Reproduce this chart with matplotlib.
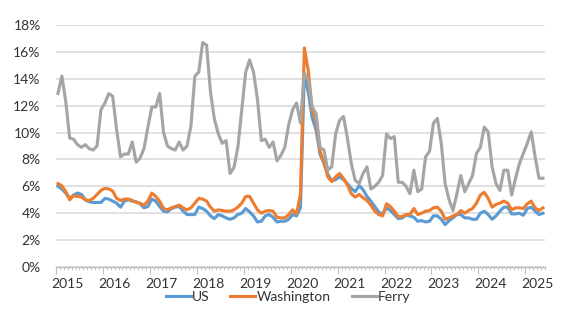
import matplotlib
matplotlib.use('Agg')
import matplotlib.pyplot as plt
import numpy as np
from matplotlib.ticker import MultipleLocator, FixedLocator, PercentFormatter

plt.rcParams['font.family'] = ['Lato', 'DejaVu Sans']

# monthly unemployment rate, Jan 2015 - May 2025 (%)
years = list(range(2015, 2026))

us = [6.0, 5.8, 5.5, 5.1, 5.35, 5.5, 5.4, 5.0, 4.85, 4.8, 4.8, 4.8,
      5.1, 5.05, 4.9, 4.75, 4.45, 4.9, 5.0, 4.9, 4.85, 4.7, 4.4, 4.5,
      5.05, 4.9, 4.5, 4.15, 4.1, 4.35, 4.45, 4.5, 4.15, 3.9, 3.9, 3.9,
      4.45, 4.35, 4.15, 3.8, 3.6, 3.9, 3.8, 3.65, 3.55, 3.65, 3.9, 4.0,
      4.35, 4.1, 3.8, 3.35, 3.4, 3.8, 3.9, 3.7, 3.35, 3.4, 3.4, 3.55,
      3.9, 3.8, 4.4, 14.4, 13.0, 11.1, 10.2, 8.4, 7.7, 6.9, 6.4, 6.5,
      6.7, 6.5, 6.2, 5.85, 5.6, 6.05, 5.75, 5.25, 4.9, 4.5, 4.1, 3.9,
      4.4, 4.2, 3.9, 3.6, 3.65, 3.85, 3.8, 3.7, 3.4, 3.45, 3.35, 3.4,
      3.8, 3.8, 3.55, 3.15, 3.45, 3.65, 3.9, 3.9, 3.65, 3.65, 3.55, 3.55,
      4.0, 4.15, 3.9, 3.55, 3.8, 4.15, 4.45, 4.45, 3.95, 3.95, 4.0, 3.85,
      4.35, 4.45, 4.15, 3.9, 4.0]

washington = [6.2, 6.05, 5.6, 5.0, 5.3, 5.25, 5.2, 5.0, 4.95, 5.1, 5.4, 5.7,
              5.85, 5.8, 5.65, 5.1, 4.95, 5.05, 5.05, 4.95, 4.8, 4.75, 4.6, 4.9,
              5.5, 5.25, 4.9, 4.35, 4.25, 4.4, 4.5, 4.6, 4.4, 4.25, 4.4, 4.75,
              5.1, 5.05, 4.9, 4.45, 4.15, 4.25, 4.2, 4.15, 4.15, 4.25, 4.45, 4.75,
              5.25, 5.25, 4.75, 4.25, 4.0, 4.15, 4.2, 4.15, 3.7, 3.65, 3.65, 3.9,
              4.25, 3.95, 5.4, 16.3, 14.6, 11.7, 10.9, 8.6, 7.8, 6.7, 6.35, 6.7,
              6.95, 6.6, 6.1, 5.45, 5.2, 5.4, 5.15, 4.95, 4.6, 4.15, 3.9, 3.8,
              4.7, 4.5, 4.15, 3.75, 3.75, 3.9, 3.9, 4.35, 3.9, 4.0, 4.15, 4.2,
              4.4, 4.45, 4.15, 3.55, 3.65, 3.8, 3.9, 4.2, 4.0, 4.2, 4.35, 4.75,
              5.35, 5.55, 5.1, 4.45, 4.65, 4.75, 4.9, 4.75, 4.25, 4.4, 4.4, 4.35,
              4.7, 4.9, 4.4, 4.2, 4.4]

ferry = [12.9, 14.2, 12.3, 9.6, 9.5, 9.1, 8.9, 9.1, 8.8, 8.7, 9.0, 11.7,
         12.2, 12.9, 12.7, 10.2, 8.2, 8.4, 8.4, 9.3, 7.8, 8.1, 8.8, 10.4,
         11.9, 11.9, 12.9, 10.0, 9.0, 8.8, 8.7, 9.3, 8.7, 9.0, 10.5, 14.2,
         14.5, 16.7, 16.5, 13.0, 11.0, 9.9, 9.2, 9.4, 6.95, 7.4, 8.9, 11.7,
         14.5, 15.4, 14.5, 12.5, 9.4, 9.5, 8.9, 9.3, 7.9, 8.3, 8.9, 10.6,
         11.7, 12.2, 10.7, 14.4, 13.9, 11.9, 11.4, 8.9, 8.7, 7.2, 7.45, 9.9,
         10.9, 11.2, 9.6, 7.7, 6.45, 6.2, 6.95, 7.45, 5.8, 6.0, 6.3, 6.8,
         9.9, 9.55, 9.7, 6.3, 6.3, 6.0, 5.45, 7.2, 5.6, 5.8, 8.2, 8.6,
         10.7, 11.05, 9.2, 6.2, 5.0, 4.2, 5.45, 6.8, 5.6, 6.2, 6.8, 8.45,
         8.9, 10.4, 10.05, 7.45, 6.2, 5.7, 7.2, 7.2, 5.35, 6.6, 7.7, 8.45,
         9.2, 10.05, 8.2, 6.6, 6.6]

m = np.arange(len(ferry))

fig = plt.figure(figsize=(5.76, 3.36), dpi=100)
ax = fig.add_axes([0.0972, 0.2054, 0.8488, 0.7202])

ax.plot(m, us, color='#5B9BD5', lw=2.25, label='US', solid_joinstyle='round')
ax.plot(m, washington, color='#ED7D31', lw=2.25, label='Washington', solid_joinstyle='round')
ax.plot(m, ferry, color='#A5A5A5', lw=2.25, label='Ferry', solid_joinstyle='round')

ax.set_ylim(0, 18)
ax.set_xlim(-0.5, 124.5)
ax.yaxis.set_major_locator(MultipleLocator(2))
ax.yaxis.set_major_formatter(PercentFormatter(decimals=0))
ax.grid(axis='y', color='#d9d9d9', lw=1.1)
ax.set_axisbelow(True)

for s in ['top', 'right', 'left']:
    ax.spines[s].set_visible(False)
ax.spines['bottom'].set_color('#bfbfbf')
ax.spines['bottom'].set_linewidth(1)

ax.xaxis.set_major_locator(FixedLocator([-0.5 + 12 * i for i in range(len(years))]))
ax.xaxis.set_minor_locator(MultipleLocator(1, offset=-0.5))
ax.tick_params(axis='x', which='major', length=5, color='#bfbfbf', labelbottom=False)
ax.tick_params(axis='x', which='minor', length=2.5, color='#bfbfbf')
ax.tick_params(axis='y', length=0, pad=11, labelsize=10, labelcolor='#333333')

for i, yr in enumerate(years):
    ax.text(2.5 + 12 * i, -0.07, str(yr), transform=ax.get_xaxis_transform(),
            ha='center', va='center', fontsize=10, color='#333333')

fig.legend(loc='center', bbox_to_anchor=(0.5, 0.115), ncol=3, frameon=False,
           fontsize=10, handlelength=1.8, columnspacing=1.5, handletextpad=0.1,
           labelcolor='#333333')

fig.savefig('out.png', dpi=100)
